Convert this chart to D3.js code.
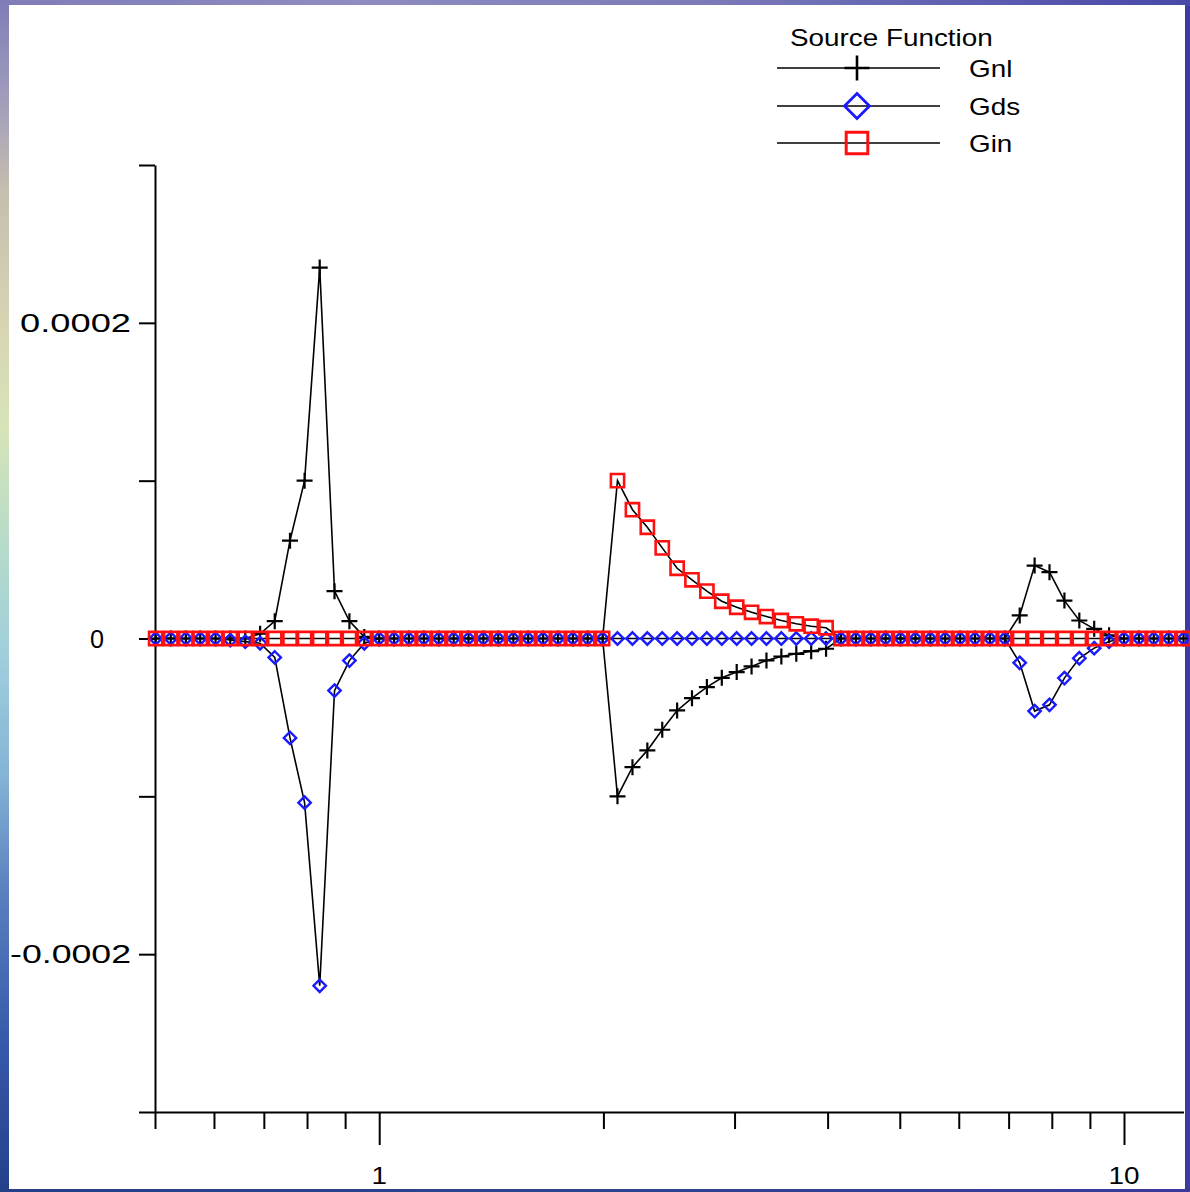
<!DOCTYPE html>
<html>
<head>
<meta charset="utf-8">
<script src="https://cdn.jsdelivr.net/npm/d3@7"></script>
<style>
  html, body { margin: 0; padding: 0; background: #ffffff; }
  svg { display: block; }
  text { font-family: "Liberation Sans", Arial, sans-serif; fill: #000; }
</style>
</head>
<body>
<script>
// Sample grid (log-spaced, 50 points per decade)
const xValues = [
  0.501, 0.525, 0.550, 0.575, 0.603, 0.631, 0.661, 0.692, 0.724, 0.759,
  0.794, 0.832, 0.871, 0.912, 0.955, 1.000, 1.047, 1.096, 1.148, 1.202,
  1.259, 1.318, 1.380, 1.445, 1.514, 1.585, 1.660, 1.738, 1.820, 1.905,
  1.995, 2.089, 2.188, 2.291, 2.399, 2.512, 2.630, 2.754, 2.884, 3.020,
  3.162, 3.311, 3.467, 3.631, 3.802, 3.981, 4.169, 4.365, 4.571, 4.786,
  5.012, 5.248, 5.495, 5.754, 6.026, 6.310, 6.607, 6.918, 7.244, 7.586,
  7.943, 8.318, 8.710, 9.120, 9.550, 10.000, 10.471, 10.965, 11.482, 12.023
];

const gnlValues = [
  0, 0, 0, 0, 0, 0, 0, 0.000003, 0.000011, 0.000062,
  0.000100, 0.000235, 0.000030, 0.000011, 0.000001, 0, 0, 0, 0, 0,
  0, 0, 0, 0, 0, 0, 0, 0, 0, 0,
  0, -0.000100, -0.0000815, -0.0000709, -0.0000578, -0.0000456, -0.0000378, -0.0000308, -0.0000249, -0.0000213,
  -0.0000177, -0.0000139, -0.0000114, -0.0000097, -0.0000080, -0.0000065, 0, 0, 0, 0,
  0, 0, 0, 0, 0, 0, 0, 0, 0.0000146, 0.0000462,
  0.0000420, 0.0000240, 0.0000114, 0.0000061, 0.0000020, 0, 0, 0, 0, 0
];

const gdsValues = [
  0, 0, 0, 0, 0, -0.000001, -0.000002, -0.000003, -0.000012, -0.000063,
  -0.000104, -0.000220, -0.000033, -0.000014, -0.000003, 0, 0, 0, 0, 0,
  0, 0, 0, 0, 0, 0, 0, 0, 0, 0,
  0, 0, 0, 0, 0, 0, 0, 0, 0, 0,
  0, 0, 0, 0, 0, 0, 0, 0, 0, 0,
  0, 0, 0, 0, 0, 0, 0, 0, -0.0000154, -0.0000460,
  -0.0000420, -0.0000251, -0.0000125, -0.0000061, -0.0000019, 0, 0, 0, 0, 0
];

const ginValues = [
  0, 0, 0, 0, 0, 0, 0, 0, 0, 0,
  0, 0, 0, 0, 0, 0, 0, 0, 0, 0,
  0, 0, 0, 0, 0, 0, 0, 0, 0, 0,
  0, 0.000100, 0.0000816, 0.0000705, 0.0000574, 0.0000445, 0.0000372, 0.0000300, 0.0000236, 0.0000198,
  0.0000166, 0.0000139, 0.0000114, 0.0000093, 0.0000078, 0.0000068, 0, 0, 0, 0,
  0, 0, 0, 0, 0, 0, 0, 0, 0, 0,
  0, 0, 0, 0, 0, 0, 0, 0, 0, 0
];

const seriesNames = ["Gnl", "Gds", "Gin"];
const legendTitle = "Source Function";

const xTickValues = [0.5, 0.6, 0.7, 0.8, 0.9, 1, 2, 3, 4, 5, 6, 7, 8, 9, 10];
const xMajorTicks = [1, 10];
const xTickLabels = ["1", "10"];

const yTickValues = [-0.0003, -0.0002, -0.0001, 0, 0.0001, 0.0002, 0.0003];
const yLabelledTicks = [-0.0002, 0, 0.0002];
const yTickLabels = ["-0.0002", "0", "0.0002"];

const W = 1190, H = 1192;
const TEXT_STRETCH = 1.16;

const svg = d3.select("body").append("svg")
  .attr("width", W).attr("height", H);

// ---- slide-style frame behind the white chart panel ----
const defs = svg.append("defs");
const leftGrad = defs.append("linearGradient").attr("id", "leftEdge")
  .attr("x1", 0).attr("y1", 0).attr("x2", 0).attr("y2", 1);
[
  [0, "#7f7cb8"], [0.08, "#9f9cbc"], [0.16, "#c6beae"], [0.28, "#d8d6b4"],
  [0.36, "#d6e4b8"], [0.45, "#b8dcc8"], [0.55, "#9fcfdc"], [0.65, "#84b4d6"],
  [0.75, "#5a7fbe"], [0.88, "#3558a8"], [1, "#24408a"]
].forEach(([o, c]) => leftGrad.append("stop").attr("offset", o).attr("stop-color", c));

const topGrad = defs.append("linearGradient").attr("id", "topEdge")
  .attr("x1", 0).attr("y1", 0).attr("x2", 1).attr("y2", 0);
[
  [0, "#7f7cb8"], [0.3, "#8e8cc0"], [0.6, "#7a7ab8"], [0.85, "#5a5ab0"], [1, "#4848a8"]
].forEach(([o, c]) => topGrad.append("stop").attr("offset", o).attr("stop-color", c));

const bottomGrad = defs.append("linearGradient").attr("id", "bottomEdge")
  .attr("x1", 0).attr("y1", 0).attr("x2", 1).attr("y2", 0);
[
  [0, "#24408a"], [0.5, "#2c4490"], [1, "#3a3a9c"]
].forEach(([o, c]) => bottomGrad.append("stop").attr("offset", o).attr("stop-color", c));

svg.append("rect").attr("x", 0).attr("y", 0).attr("width", W).attr("height", H)
  .attr("fill", "#3c3ca0");
svg.append("rect").attr("x", 0).attr("y", 0).attr("width", W).attr("height", 6)
  .attr("fill", "url(#topEdge)");
svg.append("rect").attr("x", 0).attr("y", H - 4).attr("width", W).attr("height", 4)
  .attr("fill", "url(#bottomEdge)");
svg.append("rect").attr("x", 0).attr("y", 0).attr("width", 9).attr("height", H)
  .attr("fill", "url(#leftEdge)");
svg.append("rect").attr("x", 9).attr("y", 5).attr("width", 1176).attr("height", 1184)
  .attr("fill", "#ffffff");

// ---- scales ----
const x = d3.scaleLog().domain([0.5, 12.02]).range([155, 1183.5]);
const y = d3.scaleLinear().domain([-0.0003, 0.0003]).range([1112, 165]);

function stretchedText(g, tx, ty, str, size, anchor) {
  return g.append("text")
    .attr("transform", `translate(${tx},${ty}) scale(${TEXT_STRETCH},1)`)
    .attr("font-size", size)
    .attr("text-anchor", anchor || "start")
    .text(str);
}

// ---- Y axis ----
const yAxis = d3.axisLeft(y)
  .tickValues(yTickValues)
  .tickSize(16)
  .tickSizeOuter(0)
  .tickFormat(() => "");
const yg = svg.append("g").attr("transform", "translate(155,0)").call(yAxis);
yg.select(".domain").attr("stroke", "#000").attr("stroke-width", 2);
yg.selectAll(".tick line").attr("stroke", "#000").attr("stroke-width", 2);

// value labels on the left are set in a wide face: fixed left edge and width
const yLabelBox = { "-0.0002": [10, 121], "0": [90, 14], "0.0002": [20, 111] };
yLabelledTicks.forEach((v, i) => {
  const lbl = yTickLabels[i];
  const [lx, lw] = yLabelBox[lbl];
  svg.append("text")
    .attr("x", lx)
    .attr("y", y(v) + 9)
    .attr("font-size", 25)
    .attr("textLength", lw)
    .attr("lengthAdjust", "spacingAndGlyphs")
    .text(lbl);
});

// ---- X axis ----
const xAxis = d3.axisBottom(x)
  .tickValues(xTickValues)
  .tickSize(17)
  .tickSizeOuter(0)
  .tickFormat(() => "");
const xg = svg.append("g").attr("transform", "translate(0,1112)").call(xAxis);
xg.select(".domain").attr("stroke", "#000").attr("stroke-width", 2);
xg.selectAll(".tick line")
  .attr("stroke", "#000").attr("stroke-width", 2)
  .attr("y2", d => xMajorTicks.includes(d) ? 33 : 17);

xMajorTicks.forEach((v, i) => {
  stretchedText(svg, x(v), 1184, xTickLabels[i], 24, "middle");
});

// ---- series ----
const series = [
  { name: seriesNames[0], values: gnlValues },
  { name: seriesNames[1], values: gdsValues },
  { name: seriesNames[2], values: ginValues }
];

const line = d3.line()
  .x((d, i) => x(xValues[i]))
  .y(d => y(d));

const plot = svg.append("g");
series.forEach(s => {
  plot.append("path")
    .attr("d", line(s.values))
    .attr("fill", "none")
    .attr("stroke", "#000")
    .attr("stroke-width", 1.6);
});

// marker shapes (scaled by r)
function plusPath(r) { return `M${-r},0H${r}M0,${-r}V${r}`; }
function diamondPath(r) { return `M0,${-r}L${r},0L0,${r}L${-r},0Z`; }
function squarePath(r) { return `M${-r},${-r}H${r}V${r}H${-r}Z`; }

const markerStyles = [
  { path: plusPath, r: 8, stroke: "#000000", width: 2.2 },
  { path: diamondPath, r: 6.2, stroke: "#1a1aff", width: 2.4 },
  { path: squarePath, r: 6.6, stroke: "#ff1010", width: 2.6 }
];

series.forEach((s, si) => {
  const st = markerStyles[si];
  plot.append("g").selectAll("path")
    .data(s.values)
    .join("path")
    .attr("transform", (d, i) => `translate(${x(xValues[i])},${y(d)})`)
    .attr("d", st.path(st.r))
    .attr("fill", "none")
    .attr("stroke", st.stroke)
    .attr("stroke-width", st.width);
});

// ---- legend ----
const legend = svg.append("g");
stretchedText(legend, 790, 46, legendTitle, 24, "start");
const legendRowsY = [68, 106, 143];
const legendMarkerR = [12.5, 12.5, 10.8];
series.forEach((s, si) => {
  const ly = legendRowsY[si];
  const st = markerStyles[si];
  legend.append("line")
    .attr("x1", 777).attr("x2", 940).attr("y1", ly).attr("y2", ly)
    .attr("stroke", "#000").attr("stroke-width", 1.6);
  legend.append("path")
    .attr("transform", `translate(857,${ly})`)
    .attr("d", st.path(legendMarkerR[si]))
    .attr("fill", "none")
    .attr("stroke", st.stroke)
    .attr("stroke-width", st.width + 0.4);
  stretchedText(legend, 969, ly + 9, s.name, 24, "start");
});
</script>
</body>
</html>
